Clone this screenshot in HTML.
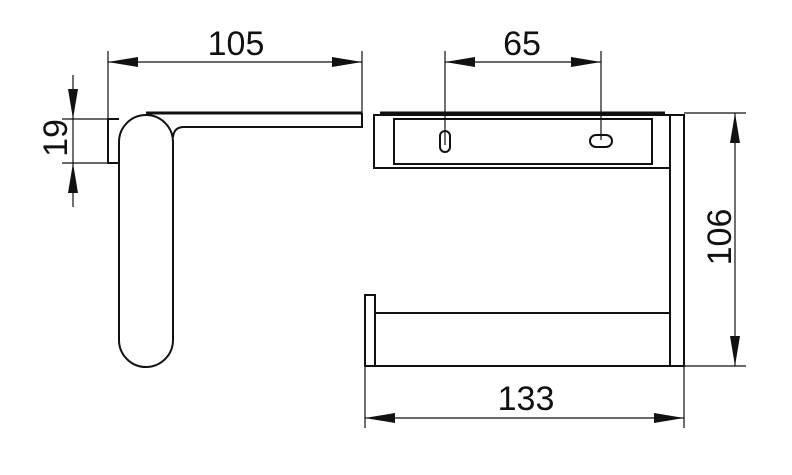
<!DOCTYPE html>
<html><head><style>
html,body{margin:0;padding:0;background:#fff;}
svg{display:block;}
text{font-family:"Liberation Sans",sans-serif;font-size:34px;fill:#111;}
</style></head><body>
<svg width="792" height="475" viewBox="0 0 792 475" xmlns="http://www.w3.org/2000/svg">
<g stroke="#111" fill="none" stroke-width="1.2">
  <!-- 105 dim -->
  <line x1="108" y1="51" x2="108" y2="163"/>
  <line x1="362" y1="51" x2="362" y2="118"/>
  <line x1="108" y1="62" x2="362" y2="62"/>
  <!-- 19 dim -->
  <line x1="62" y1="119" x2="119" y2="119"/>
  <line x1="62" y1="163" x2="108" y2="163"/>
  <line x1="73" y1="75" x2="73" y2="207"/>
  <!-- 65 dim -->
  <line x1="445" y1="51" x2="445" y2="145"/>
  <line x1="601" y1="51" x2="601" y2="140"/>
  <line x1="445" y1="62" x2="601" y2="62"/>
  <!-- 106 dim -->
  <line x1="684" y1="113" x2="746" y2="113"/>
  <line x1="684" y1="366" x2="746" y2="366"/>
  <line x1="735" y1="113" x2="735" y2="366"/>
  <!-- 133 dim -->
  <line x1="365" y1="366" x2="365" y2="428"/>
  <line x1="684" y1="366" x2="684" y2="428"/>
  <line x1="365" y1="418" x2="684" y2="418"/>
</g>
<g fill="#111">
  <polygon points="108,62 138,57 138,67"/>
  <polygon points="362,62 332,57 332,67"/>
  <polygon points="73,119 68,89 78,89"/>
  <polygon points="73,163 68,193 78,193"/>
  <polygon points="445,62 475,57 475,67"/>
  <polygon points="601,62 571,57 571,67"/>
  <polygon points="735,113 730,143 740,143"/>
  <polygon points="735,366 730,336 740,336"/>
  <polygon points="365,418 395,413 395,423"/>
  <polygon points="684,418 654,413 654,423"/>
</g>
<g stroke="#111" fill="none" stroke-width="2">
  <!-- left view -->
  <line x1="146" y1="113" x2="362" y2="113" stroke-width="3"/>
  <path d="M184,127 L362,127 L362,113"/>
  <path d="M173,137 Q174,127 184,127"/>
  <rect x="119" y="115" width="54" height="252" rx="27" ry="27"/>
  <path d="M119,119 L108,119 L108,163 L119,163"/>
  <!-- right view -->
  <line x1="380" y1="113" x2="665" y2="113" stroke-width="3"/>
  <rect x="374" y="115" width="296" height="53"/>
  <rect x="394" y="119" width="258" height="45"/>
  <rect x="440" y="131" width="10" height="21" rx="5"/>
  <rect x="590" y="135" width="22" height="12" rx="6"/>
  <rect x="670" y="115" width="14" height="251"/>
  <line x1="376" y1="313" x2="670" y2="313"/>
  <line x1="365" y1="366" x2="670" y2="366"/>
  <rect x="365" y="295" width="10" height="71"/>
</g>
<text x="236" y="55" text-anchor="middle">105</text>
<text x="522" y="55" text-anchor="middle">65</text>
<text x="526" y="410" text-anchor="middle">133</text>
<text transform="translate(67,138) rotate(-90)" text-anchor="middle">19</text>
<text transform="translate(731,237) rotate(-90)" text-anchor="middle">106</text>
</svg>
</body></html>
